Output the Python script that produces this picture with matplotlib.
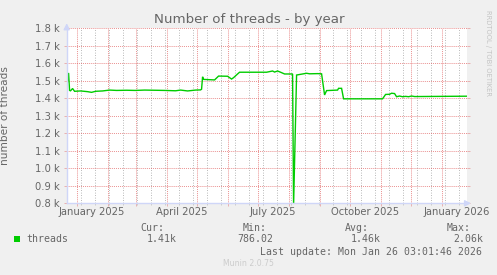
import numpy as np
import pandas as pd
import matplotlib as mpl
mpl.use('Agg')
import matplotlib.pyplot as plt
import matplotlib.dates as mdates
from matplotlib.ticker import FixedLocator, FuncFormatter

# Series
dates = [
    '2024-12-22', '2024-12-23', '2024-12-24', '2024-12-25', '2024-12-26',
    '2024-12-28', '2024-12-30', '2025-01-05', '2025-01-12', '2025-01-16',
    '2025-01-20', '2025-01-27', '2025-02-03', '2025-02-10', '2025-02-20',
    '2025-03-01', '2025-03-10', '2025-03-20', '2025-03-30', '2025-04-10',
    '2025-04-15', '2025-04-22', '2025-04-30', '2025-05-05', '2025-05-06',
    '2025-05-07', '2025-05-08', '2025-05-19', '2025-05-23', '2025-06-01',
    '2025-06-05', '2025-06-07', '2025-06-11', '2025-06-13', '2025-07-10',
    '2025-07-16', '2025-07-18', '2025-07-21', '2025-07-24', '2025-07-28',
    '2025-08-05', '2025-08-06', '2025-08-09', '2025-08-19', '2025-08-22',
    '2025-08-30', '2025-09-03', '2025-09-06', '2025-09-08', '2025-09-19',
    '2025-09-20', '2025-09-23', '2025-09-25', '2025-11-03', '2025-11-06',
    '2025-11-10', '2025-11-12', '2025-11-15', '2025-11-17', '2025-11-20',
    '2025-11-23', '2025-11-26', '2025-11-29', '2025-12-02', '2025-12-05',
    '2026-01-26',
]
threads = [
    1440, 1500, 1545, 1445, 1443,
    1456, 1440, 1442, 1438, 1434,
    1440, 1442, 1447, 1445, 1446,
    1445, 1447, 1446, 1445, 1443,
    1447, 1442, 1447, 1448, 1452,
    1523, 1508, 1505, 1527, 1526,
    1510, 1518, 1539, 1549, 1549,
    1556, 1550, 1556, 1549, 1539,
    1539, 786, 1533, 1543, 1540,
    1541, 1540, 1419, 1444, 1447,
    1457, 1457, 1397, 1397, 1422,
    1423, 1429, 1427, 1409, 1413,
    1409, 1411, 1409, 1413, 1410,
    1412,
]

y_ticks = [800, 900, 1000, 1100, 1200, 1300, 1400, 1500, 1600, 1700, 1800]
x_labels = ['January 2025', 'April 2025', 'July 2025', 'October 2025',
            'January 2026']
x_label_dates = ['2025-01-16', '2025-04-16', '2025-07-16', '2025-10-16',
                 '2026-01-16']

legend_heads = ['Cur:', 'Min:', 'Avg:', 'Max:']
legend_vals = ['1.41k', '786.02', '1.46k', '2.06k']

# Colours (munin / rrdtool defaults)
BACK = '#F0F0F0'
FONT = '#666666'
AXIS = '#CFD6F8'
LINE = '#00CC00'
GRID = (0.56, 0.56, 0.56, 0.45)
MGRID = (0.87, 0.31, 0.31, 0.45)

W, H = 497, 275
fig = plt.figure(figsize=(W / 100, H / 100), dpi=100, facecolor=BACK)

# Graph area 400x175 px
left, top, right, bottom = 66.7, 28.3, 466.7, 203.3
ax = fig.add_axes([left / W, 1 - bottom / H, (right - left) / W,
                   (bottom - top) / H])
ax.set_facecolor('white')

t_end = pd.Timestamp('2026-01-26 03:01:46')
t_start = t_end - pd.Timedelta(days=400)

x = pd.to_datetime(dates)
ax.plot(x, threads, color=LINE, lw=1.0, solid_joinstyle='miter', zorder=3)

ax.set_xlim(t_start, t_end)
ax.set_ylim(800, 1800)

# Grid: monthly major (red), fortnightly minor (grey), 0.1k horizontal
months = pd.date_range('2025-01-01', '2026-01-01', freq='MS')
fortnights = pd.date_range('2024-12-22', '2026-01-26', freq='14D')
ax.xaxis.set_major_locator(FixedLocator(mdates.date2num(months)))
ax.xaxis.set_minor_locator(FixedLocator(mdates.date2num(fortnights)))
ax.xaxis.set_major_formatter(FuncFormatter(lambda v, p: ''))
ax.yaxis.set_major_locator(FixedLocator(y_ticks))
ax.yaxis.set_major_formatter(
    FuncFormatter(lambda v, p: '%.1f k' % (v / 1000.0)))

ax.grid(True, axis='x', which='minor', color=GRID, lw=0.5,
        linestyle=(0, (1.2, 2.4)))
ax.grid(True, axis='x', which='major', color=MGRID, lw=0.5,
        linestyle=(0, (1.2, 1.6)))
ax.grid(True, axis='y', which='major', color=MGRID, lw=0.5,
        linestyle=(0, (1.2, 1.6)))
ax.set_axisbelow(True)

ax.tick_params(axis='x', which='major', length=2.4, width=0.6,
               color=MGRID, direction='out')
ax.tick_params(axis='x', which='minor', length=1.5, width=0.6,
               color=GRID, direction='out')
ax.tick_params(axis='y', which='major', length=2.4, width=0.6,
               color=MGRID, direction='out', labelsize=7.2,
               labelcolor=FONT, pad=2.6, right=True)

for s in ['top', 'right']:
    ax.spines[s].set_visible(False)
for s in ['left', 'bottom']:
    ax.spines[s].set_color(AXIS)
    ax.spines[s].set_linewidth(1.0)
    ax.spines[s].set_zorder(4)

# Axis arrows
ax.annotate('', xy=(0, 1.045), xycoords='axes fraction',
            xytext=(0, 0.99), arrowprops=dict(arrowstyle='-|>',
            color=AXIS, lw=1, mutation_scale=9), annotation_clip=False)
ax.annotate('', xy=(1.018, 0), xycoords='axes fraction',
            xytext=(0.995, 0), arrowprops=dict(arrowstyle='-|>',
            color=AXIS, lw=1, mutation_scale=9), annotation_clip=False)

# Month labels centred mid-month
for lab, d in zip(x_labels, x_label_dates):
    ax.annotate(lab, xy=(pd.Timestamp(d), 0),
                xycoords=('data', 'axes fraction'), xytext=(0, -6.6),
                textcoords='offset points', ha='center', va='center',
                fontsize=7.2, color=FONT, annotation_clip=False)

ax.set_ylabel('number of threads', fontsize=7.6, color=FONT)
ax.yaxis.set_label_coords(-(left - 10) / (right - left), 0.5)

# Title
fig.text(249 / W, 1 - 19 / H, 'Number of threads - by year',
         ha='center', va='center', fontsize=9.6, color=FONT)

# Watermark
fig.text(488 / W, 1 - 53 / H, 'RRDTOOL / TOBI OETIKER', rotation=-90,
         ha='center', va='center', fontsize=4.9, color='#C4C4C4')

# Legend
mono = dict(family='DejaVu Sans Mono', fontsize=7.1, color=FONT,
            va='center')
fig.patches.append(plt.Rectangle((14 / W, 1 - 242 / H), 6 / W, 6 / H,
                                 transform=fig.transFigure,
                                 facecolor=LINE, edgecolor='none'))
fig.text(26.7 / W, 1 - 239 / H, 'threads', ha='left', **mono)

head_x = [140, 242.7, 345, 446.7]
val_x = [146.7, 237, 351, 453]
for h, v, hx, vx in zip(legend_heads, legend_vals, head_x, val_x):
    fig.text(hx / W, 1 - 227.7 / H, h, ha='left', **mono)
    fig.text(vx / W, 1 - 239 / H, v, ha='left', **mono)

fig.text(482.3 / W, 1 - 251.7 / H,
         'Last update: Mon Jan 26 03:01:46 2026', ha='right', **mono)

fig.text(248 / W, 1 - 264 / H, 'Munin 2.0.75', ha='center', va='center',
         fontsize=5.6, color='#CCCCCC')

fig.savefig('out.png', dpi=100, facecolor=BACK)
